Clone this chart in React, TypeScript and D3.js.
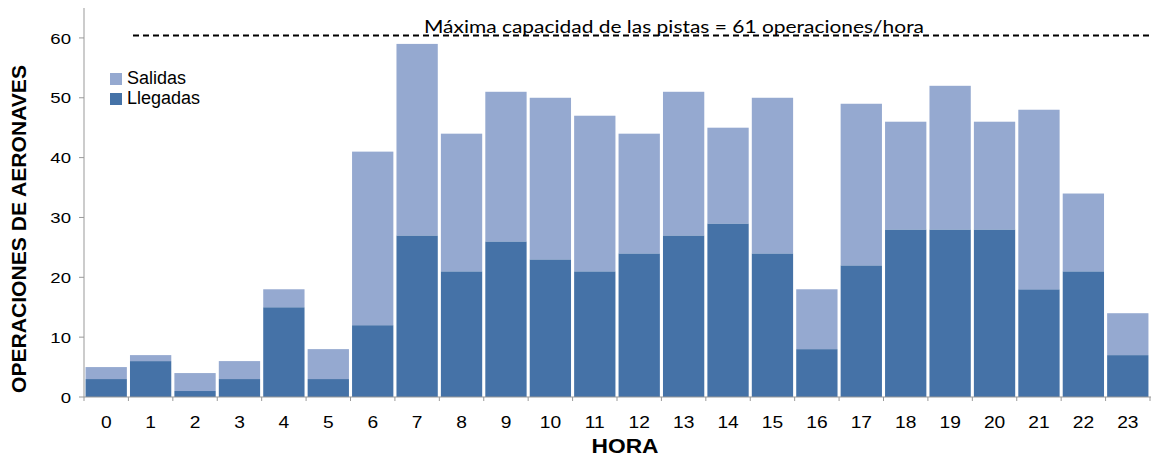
import React from "react";
import * as d3 from "d3";

const hours = ["0","1","2","3","4","5","6","7","8","9","10","11","12","13","14","15","16","17","18","19","20","21","22","23"];
const llegadas = [3,6,1,3,15,3,12,27,21,26,23,21,24,27,29,24,8,22,28,28,28,18,21,7];
const salidas = [2,1,3,3,3,5,29,32,23,25,27,26,20,24,16,26,10,27,18,24,18,30,13,7];
const yTicks = [0,10,20,30,40,50,60];
const capacityValue = 60.4;
const capacityLabel = "Máxima capacidad de las pistas = 61 operaciones/hora";

export default function App() {
  const W = 1151, H = 457;
  const left = 84, right = 1150, top = 8, bottom = 397;
  const x = d3.scaleBand<string>().domain(hours).range([left, right]).paddingInner(0.07).paddingOuter(0.035);
  const y = d3.scaleLinear().domain([0, 65]).range([bottom, top]);
  const step = x.step();
  const font = "Liberation Sans, Arial, sans-serif";
  return (
    <svg width={W} height={H} style={{ position: "absolute", left: 0, top: 0 }}>
      <rect width={W} height={H} fill="#fff" />
      {hours.map((h, i) => {
        const x0 = x(h)!;
        const bw = x.bandwidth();
        return (
          <g key={h}>
            <rect x={x0} y={y(llegadas[i])} width={bw} height={y(0) - y(llegadas[i])} fill="#4572A7" />
            <rect x={x0} y={y(llegadas[i] + salidas[i])} width={bw} height={y(llegadas[i]) - y(llegadas[i] + salidas[i])} fill="#95A9D0" />
          </g>
        );
      })}
      {/* axes */}
      <line x1={left} x2={left} y1={top} y2={bottom} stroke="#999" strokeWidth={1} />
      <line x1={left} x2={right + 1} y1={bottom} y2={bottom} stroke="#999" strokeWidth={1} />
      {yTicks.map(t => (
        <g key={t}>
          <line x1={left - 5} x2={left} y1={y(t)} y2={y(t)} stroke="#999" />
          <text transform={`translate(${left - 13}, ${y(t)}) scale(1.2,1)`} dy="0.36em" textAnchor="end" fontFamily={font} fontSize={15.5} fill="#000">{t}</text>
        </g>
      ))}
      {d3.range(hours.length + 1).map(i => (
        <line key={i} x1={left + i * step} x2={left + i * step} y1={bottom} y2={bottom + 4} stroke="#999" />
      ))}
      {hours.map(h => (
        <text key={h} transform={`translate(${x(h)! + x.bandwidth() / 2}, 428) scale(1.2,1)`} textAnchor="middle" fontFamily={font} fontSize={16} fill="#000">{h}</text>
      ))}
      {/* capacity line */}
      <line x1={133} x2={W} y1={y(capacityValue)} y2={y(capacityValue)} stroke="#000" strokeWidth={2} strokeDasharray="6,4" />
      <text x={424} y={33} fontFamily="Lato, Carlito, sans-serif" fontSize={18} textLength={500} lengthAdjust="spacingAndGlyphs" fill="#000">{capacityLabel}</text>
      {/* legend */}
      <rect x={110} y={73} width={12} height={12} fill="#95A9D0" />
      <text x={127} y={84} fontFamily={font} fontSize={18} fill="#000">Salidas</text>
      <rect x={110} y={93} width={12} height={12} fill="#4572A7" />
      <text x={127} y={104} fontFamily={font} fontSize={18} fill="#000">Llegadas</text>
      {/* titles */}
      <text transform={`translate(26, 229) rotate(-90)`} textAnchor="middle" fontFamily={font} fontWeight="bold" fontSize={20} textLength={328} lengthAdjust="spacingAndGlyphs" fill="#000">OPERACIONES DE AERONAVES</text>
      <text x={625} y={453} textAnchor="middle" fontFamily={font} fontWeight="bold" fontSize={20} textLength={67} lengthAdjust="spacingAndGlyphs" fill="#000">HORA</text>
    </svg>
  );
}
